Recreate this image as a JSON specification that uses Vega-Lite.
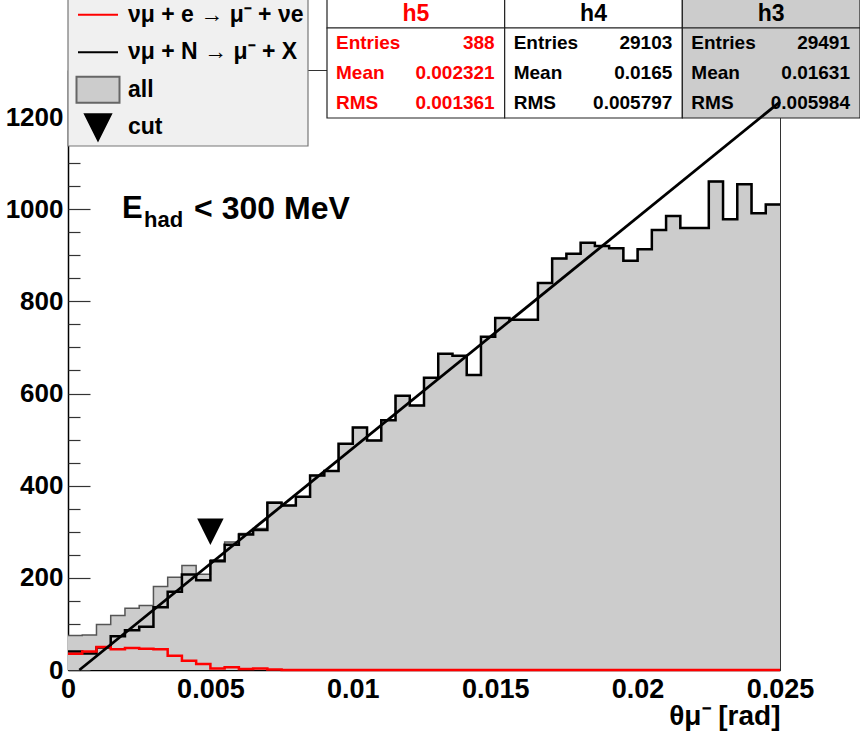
{
  "$schema": "https://vega.github.io/schema/vega-lite/v6.json",
  "width": 712,
  "height": 600,
  "autosize": {"type": "none"},
  "padding": {"left": 68, "top": 70, "right": 80, "bottom": 65},
  "background": "white",
  "config": {"font": "Liberation Sans", "view": {"stroke": "#333333", "strokeWidth": 1}},
  "datasets": {
    "bins": [
      {"lo": 0, "hi": 0.0005, "h3": 75, "h4": 40, "h5": 35},
      {"lo": 0.0005, "hi": 0.001, "h3": 76, "h4": 36, "h5": 40},
      {"lo": 0.001, "hi": 0.0015, "h3": 99, "h4": 49, "h5": 50},
      {"lo": 0.0015, "hi": 0.002, "h3": 118, "h4": 73, "h5": 45},
      {"lo": 0.002, "hi": 0.0025, "h3": 134, "h4": 86, "h5": 48},
      {"lo": 0.0025, "hi": 0.003, "h3": 140, "h4": 94, "h5": 46},
      {"lo": 0.003, "hi": 0.0035, "h3": 181, "h4": 136, "h5": 45},
      {"lo": 0.0035, "hi": 0.004, "h3": 201, "h4": 170, "h5": 31},
      {"lo": 0.004, "hi": 0.0045, "h3": 227, "h4": 207, "h5": 20},
      {"lo": 0.0045, "hi": 0.005, "h3": 208, "h4": 195, "h5": 13},
      {"lo": 0.005, "hi": 0.0055, "h3": 239, "h4": 236, "h5": 3},
      {"lo": 0.0055, "hi": 0.006, "h3": 278, "h4": 272, "h5": 6},
      {"lo": 0.006, "hi": 0.0065, "h3": 296, "h4": 294, "h5": 2},
      {"lo": 0.0065, "hi": 0.007, "h3": 307, "h4": 304, "h5": 3},
      {"lo": 0.007, "hi": 0.0075, "h3": 364, "h4": 363, "h5": 1},
      {"lo": 0.0075, "hi": 0.008, "h3": 357, "h4": 357, "h5": 0},
      {"lo": 0.008, "hi": 0.0085, "h3": 376, "h4": 376, "h5": 0},
      {"lo": 0.0085, "hi": 0.009, "h3": 422, "h4": 422, "h5": 0},
      {"lo": 0.009, "hi": 0.0095, "h3": 432, "h4": 432, "h5": 0},
      {"lo": 0.0095, "hi": 0.01, "h3": 491, "h4": 491, "h5": 0},
      {"lo": 0.01, "hi": 0.0105, "h3": 526, "h4": 526, "h5": 0},
      {"lo": 0.0105, "hi": 0.011, "h3": 498, "h4": 498, "h5": 0},
      {"lo": 0.011, "hi": 0.0115, "h3": 542, "h4": 542, "h5": 0},
      {"lo": 0.0115, "hi": 0.012, "h3": 595, "h4": 595, "h5": 0},
      {"lo": 0.012, "hi": 0.0125, "h3": 574, "h4": 574, "h5": 0},
      {"lo": 0.0125, "hi": 0.013, "h3": 634, "h4": 634, "h5": 0},
      {"lo": 0.013, "hi": 0.0135, "h3": 686, "h4": 686, "h5": 0},
      {"lo": 0.0135, "hi": 0.014, "h3": 682, "h4": 682, "h5": 0},
      {"lo": 0.014, "hi": 0.0145, "h3": 640, "h4": 640, "h5": 0},
      {"lo": 0.0145, "hi": 0.015, "h3": 723, "h4": 723, "h5": 0},
      {"lo": 0.015, "hi": 0.0155, "h3": 764, "h4": 764, "h5": 0},
      {"lo": 0.0155, "hi": 0.016, "h3": 760, "h4": 760, "h5": 0},
      {"lo": 0.016, "hi": 0.0165, "h3": 760, "h4": 760, "h5": 0},
      {"lo": 0.0165, "hi": 0.017, "h3": 840, "h4": 840, "h5": 0},
      {"lo": 0.017, "hi": 0.0175, "h3": 893, "h4": 893, "h5": 0},
      {"lo": 0.0175, "hi": 0.018, "h3": 903, "h4": 903, "h5": 0},
      {"lo": 0.018, "hi": 0.0185, "h3": 927, "h4": 927, "h5": 0},
      {"lo": 0.0185, "hi": 0.019, "h3": 920, "h4": 920, "h5": 0},
      {"lo": 0.019, "hi": 0.0195, "h3": 915, "h4": 915, "h5": 0},
      {"lo": 0.0195, "hi": 0.02, "h3": 888, "h4": 888, "h5": 0},
      {"lo": 0.02, "hi": 0.0205, "h3": 913, "h4": 913, "h5": 0},
      {"lo": 0.0205, "hi": 0.021, "h3": 955, "h4": 955, "h5": 0},
      {"lo": 0.021, "hi": 0.0215, "h3": 985, "h4": 985, "h5": 0},
      {"lo": 0.0215, "hi": 0.022, "h3": 959, "h4": 959, "h5": 0},
      {"lo": 0.022, "hi": 0.0225, "h3": 959, "h4": 959, "h5": 0},
      {"lo": 0.0225, "hi": 0.023, "h3": 1060, "h4": 1060, "h5": 0},
      {"lo": 0.023, "hi": 0.0235, "h3": 978, "h4": 978, "h5": 0},
      {"lo": 0.0235, "hi": 0.024, "h3": 1054, "h4": 1054, "h5": 0},
      {"lo": 0.024, "hi": 0.0245, "h3": 991, "h4": 991, "h5": 0},
      {"lo": 0.0245, "hi": 0.025, "h3": 1010, "h4": 1010, "h5": 0}
    ],
    "fit": [{"x": 0.0004, "y": 0}, {"x": 0.025, "y": 1233}],
    "cut": [{"x": 0.005, "y": 300}],
    "heads": [{"hist": "h5"}, {"hist": "h4"}, {"hist": "h3"}],
    "stats": [
      {"hist": "h5", "stat": "Entries", "value": "388"},
      {"hist": "h5", "stat": "Mean", "value": "0.002321"},
      {"hist": "h5", "stat": "RMS", "value": "0.001361"},
      {"hist": "h4", "stat": "Entries", "value": "29103"},
      {"hist": "h4", "stat": "Mean", "value": "0.0165"},
      {"hist": "h4", "stat": "RMS", "value": "0.005797"},
      {"hist": "h3", "stat": "Entries", "value": "29491"},
      {"hist": "h3", "stat": "Mean", "value": "0.01631"},
      {"hist": "h3", "stat": "RMS", "value": "0.005984"}
    ],
    "legend": [
      {"key": "h5", "label": "νμ + e → μ⁻ + νe"},
      {"key": "h4", "label": "νμ + N → μ⁻ + X"},
      {"key": "h3", "label": "all"},
      {"key": "cut", "label": "cut"}
    ]
  },
  "layer": [
    {
      "layer": [
        {
          "data": {"name": "heads"},
          "mark": {"type": "rect", "stroke": "#222222", "strokeWidth": 1.2},
          "encoding": {
            "x": {"field": "hist", "type": "nominal", "scale": {"domain": ["h5", "h4", "h3"], "range": [259, 792], "paddingInner": 0, "paddingOuter": 0}, "axis": null},
            "y": {"datum": "title", "type": "nominal", "bandPosition": 0, "scale": {"domain": ["title", "Entries", "Mean", "RMS", "end"], "range": [-72, 78], "paddingInner": 0, "paddingOuter": 0}, "axis": null},
            "y2": {"datum": "Entries", "bandPosition": 0},
            "fill": {"condition": {"test": "datum.hist === 'h3'", "value": "#cccccc"}, "value": "#ffffff"}
          }
        },
        {
          "data": {"name": "heads"},
          "mark": {"type": "rect", "stroke": "#222222", "strokeWidth": 1.2},
          "encoding": {
            "x": {"field": "hist", "type": "nominal", "scale": {"domain": ["h5", "h4", "h3"], "range": [259, 792], "paddingInner": 0, "paddingOuter": 0}, "axis": null},
            "y": {"datum": "Entries", "type": "nominal", "bandPosition": 0, "scale": {"domain": ["title", "Entries", "Mean", "RMS", "end"], "range": [-72, 78], "paddingInner": 0, "paddingOuter": 0}, "axis": null},
            "y2": {"datum": "end", "bandPosition": 0},
            "fill": {"condition": {"test": "datum.hist === 'h3'", "value": "#cccccc"}, "value": "#ffffff"}
          }
        },
        {
          "data": {"name": "heads"},
          "mark": {"type": "text", "fontSize": 23, "fontWeight": "bold", "baseline": "middle", "align": "center", "dy": 1},
          "encoding": {
            "x": {"field": "hist", "type": "nominal", "scale": {"domain": ["h5", "h4", "h3"], "range": [259, 792], "paddingInner": 0, "paddingOuter": 0}, "axis": null},
            "y": {"datum": "title", "type": "nominal", "scale": {"domain": ["title", "Entries", "Mean", "RMS", "end"], "range": [-72, 78], "paddingInner": 0, "paddingOuter": 0}, "axis": null},
            "text": {"field": "hist"},
            "color": {"condition": {"test": "datum.hist === 'h5'", "value": "#ff0000"}, "value": "#000000"}
          }
        },
        {
          "data": {"name": "stats"},
          "mark": {"type": "text", "fontSize": 19, "fontWeight": "bold", "baseline": "middle", "align": "left", "dx": 9},
          "encoding": {
            "x": {"field": "hist", "type": "nominal", "bandPosition": 0, "scale": {"domain": ["h5", "h4", "h3"], "range": [259, 792], "paddingInner": 0, "paddingOuter": 0}, "axis": null},
            "y": {"field": "stat", "type": "nominal", "scale": {"domain": ["title", "Entries", "Mean", "RMS", "end"], "range": [-72, 78], "paddingInner": 0, "paddingOuter": 0}, "axis": null},
            "text": {"field": "stat"},
            "color": {"condition": {"test": "datum.hist === 'h5'", "value": "#ff0000"}, "value": "#000000"}
          }
        },
        {
          "data": {"name": "stats"},
          "mark": {"type": "text", "fontSize": 19, "fontWeight": "bold", "baseline": "middle", "align": "right", "dx": -10},
          "encoding": {
            "x": {"field": "hist", "type": "nominal", "bandPosition": 1, "scale": {"domain": ["h5", "h4", "h3"], "range": [259, 792], "paddingInner": 0, "paddingOuter": 0}, "axis": null},
            "y": {"field": "stat", "type": "nominal", "scale": {"domain": ["title", "Entries", "Mean", "RMS", "end"], "range": [-72, 78], "paddingInner": 0, "paddingOuter": 0}, "axis": null},
            "text": {"field": "value"},
            "color": {"condition": {"test": "datum.hist === 'h5'", "value": "#ff0000"}, "value": "#000000"}
          }
        }
      ]
    },
    {
      "resolve": {"axis": {"y": "independent"}},
      "layer": [
        {
          "data": {"name": "bins"},
          "transform": [{"fold": ["lo", "hi"], "as": ["edge", "x"]}],
          "mark": {"type": "area", "line": false, "opacity": 1, "color": "#cccccc"},
          "encoding": {
            "x": {
              "field": "x", "type": "quantitative",
              "scale": {"domain": [0, 0.025], "nice": false, "zero": false},
              "axis": {
                "orient": "bottom", "values": [0, 0.005, 0.01, 0.015, 0.02, 0.025], "format": "~g",
                "ticks": false, "grid": false, "domainColor": "#000000", "domainWidth": 1.5,
                "labelFont": "Liberation Sans", "labelFontSize": 27, "labelFontWeight": "bold", "labelColor": "#000000",
                "labelPadding": 6, "labelFlush": false, "labelOverlap": false, "labelBound": false,
                "title": "θμ⁻ [rad]", "titleFont": "Liberation Sans", "titleFontSize": 28, "titleFontWeight": "bold",
                "titleColor": "#000000", "titleAnchor": "end", "titleAlign": "right", "titleBaseline": "alphabetic", "titleY": 54
              }
            },
            "y": {
              "field": "h3", "type": "quantitative", "stack": null,
              "scale": {"domain": [0, 1302], "nice": false},
              "axis": {
                "orient": "left", "values": [0, 200, 400, 600, 800, 1000, 1200],
                "format": "d", "ticks": false,
                "grid": false, "domainColor": "#000000", "domainWidth": 1.5,
                "labelFont": "Liberation Sans", "labelFontSize": 26, "labelFontWeight": "bold", "labelColor": "#000000",
                "labelPadding": 5, "labelOverlap": false, "labelBound": false, "title": null
              }
            }
          }
        },
        {
          "data": {"name": "bins"},
          "transform": [{"fold": ["lo", "hi"], "as": ["edge", "x"]}],
          "mark": {"type": "line", "color": "#555555", "strokeWidth": 1.5},
          "encoding": {
            "x": {"field": "x", "type": "quantitative"},
            "y": {
              "field": "h3", "type": "quantitative",
              "axis": {
                "orient": "left", "values": [50, 100, 150, 250, 300, 350, 450, 500, 550, 650, 700, 750, 850, 900, 950, 1050, 1100, 1150, 1250, 1300],
                "ticks": true, "tickSize": -12, "tickColor": "#333333", "tickWidth": 1.2,
                "labels": false, "domain": false, "grid": false, "title": null
              }
            }
          }
        },
        {
          "data": {"name": "bins"},
          "transform": [{"fold": ["lo", "hi"], "as": ["edge", "x"]}],
          "mark": {"type": "line", "strokeWidth": 2.5, "color": "#000000"},
          "encoding": {
            "x": {"field": "x", "type": "quantitative"},
            "y": {
              "field": "h4", "type": "quantitative",
              "axis": {
                "orient": "left", "values": [0, 200, 400, 600, 800, 1000, 1200],
                "ticks": true, "tickSize": -22, "tickColor": "#333333", "tickWidth": 1.2,
                "labels": false, "domain": false, "grid": false, "title": null
              }
            }
          }
        },
        {
          "data": {"name": "bins"},
          "transform": [{"fold": ["lo", "hi"], "as": ["edge", "x"]}],
          "mark": {"type": "line", "strokeWidth": 2.5, "color": "#ff0000"},
          "encoding": {
            "x": {"field": "x", "type": "quantitative"},
            "y": {"field": "h5", "type": "quantitative", "axis": null}
          }
        },
        {
          "data": {"name": "fit"},
          "mark": {"type": "line", "color": "#000000", "strokeWidth": 2.8},
          "encoding": {
            "x": {"field": "x", "type": "quantitative"},
            "y": {"field": "y", "type": "quantitative", "axis": null}
          }
        },
        {
          "data": {"name": "cut"},
          "mark": {"type": "point", "shape": "M-1,-1H1L0,1Z", "filled": true, "size": 700, "opacity": 1, "color": "#000000"},
          "encoding": {
            "x": {"field": "x", "type": "quantitative"},
            "y": {"field": "y", "type": "quantitative", "axis": null}
          }
        },
        {
          "data": {"values": [{}]},
          "mark": {"type": "text", "text": "E", "align": "left", "baseline": "middle", "fontSize": 31, "fontWeight": "bold", "color": "#000000"},
          "encoding": {"x": {"datum": 0.0019, "type": "quantitative"}, "y": {"datum": 1000, "type": "quantitative", "axis": null}}
        },
        {
          "data": {"values": [{}]},
          "mark": {"type": "text", "text": "had", "align": "left", "baseline": "middle", "fontSize": 22, "fontWeight": "bold", "color": "#000000", "dx": 22, "dy": 11},
          "encoding": {"x": {"datum": 0.0019, "type": "quantitative"}, "y": {"datum": 1000, "type": "quantitative", "axis": null}}
        },
        {
          "data": {"values": [{}]},
          "mark": {"type": "text", "text": "< 300 MeV", "align": "left", "baseline": "middle", "fontSize": 32, "fontWeight": "bold", "color": "#000000", "dx": 72},
          "encoding": {"x": {"datum": 0.0019, "type": "quantitative"}, "y": {"datum": 1000, "type": "quantitative", "axis": null}}
        }
      ]
    },
    {
      "layer": [
        {
          "data": {"values": [{}]},
          "mark": {"type": "rect", "fill": "#f0f0f0", "stroke": "#777777", "strokeWidth": 1.2},
          "encoding": {
            "x": {"datum": "sym", "type": "nominal", "bandPosition": 0, "scale": {"domain": ["sym", "lab", "pad", "end"], "range": [0, 240], "paddingInner": 0, "paddingOuter": 0}, "axis": null},
            "x2": {"datum": "end", "bandPosition": 1},
            "y": {"datum": "h5", "type": "nominal", "bandPosition": 0, "scale": {"domain": ["h5", "h4", "h3", "cut", "end"], "range": [-74, 113.5], "paddingInner": 0, "paddingOuter": 0}, "axis": null},
            "y2": {"datum": "end", "bandPosition": 0}
          }
        },
        {
          "data": {"name": "legend"},
          "mark": {"type": "point", "size": 400, "strokeWidth": 2, "opacity": 1},
          "encoding": {
            "x": {"datum": "sym", "type": "nominal", "scale": {"domain": ["sym", "lab", "pad", "end"], "range": [0, 240], "paddingInner": 0, "paddingOuter": 0}, "axis": null},
            "y": {"field": "key", "type": "nominal", "scale": {"domain": ["h5", "h4", "h3", "cut", "end"], "range": [-74, 113.5], "paddingInner": 0, "paddingOuter": 0}, "axis": null},
            "shape": {"field": "key", "type": "nominal", "scale": {"domain": ["h5", "h4", "h3", "cut"], "range": ["M-2,0H2", "M-2,0H2", "M-2.15,-1.3H2.15V1.3H-2.15Z", "M-1.3,-1.3H1.3L0,1.3Z"]}, "legend": null},
            "fill": {"field": "key", "type": "nominal", "scale": {"domain": ["h5", "h4", "h3", "cut"], "range": ["transparent", "transparent", "#cccccc", "#000000"]}, "legend": null},
            "stroke": {"field": "key", "type": "nominal", "scale": {"domain": ["h5", "h4", "h3", "cut"], "range": ["#ff0000", "#000000", "#666666", "#000000"]}, "legend": null}
          }
        },
        {
          "data": {"name": "legend"},
          "mark": {"type": "text", "fontSize": 23, "fontWeight": "bold", "align": "left", "baseline": "middle", "color": "#000000"},
          "encoding": {
            "x": {"datum": "lab", "type": "nominal", "bandPosition": 0, "scale": {"domain": ["sym", "lab", "pad", "end"], "range": [0, 240], "paddingInner": 0, "paddingOuter": 0}, "axis": null},
            "y": {"field": "key", "type": "nominal", "scale": {"domain": ["h5", "h4", "h3", "cut", "end"], "range": [-74, 113.5], "paddingInner": 0, "paddingOuter": 0}, "axis": null},
            "text": {"field": "label"}
          }
        }
      ]
    }
  ],
  "resolve": {"scale": {"x": "independent", "y": "independent"}, "axis": {"x": "independent", "y": "independent"}}
}
